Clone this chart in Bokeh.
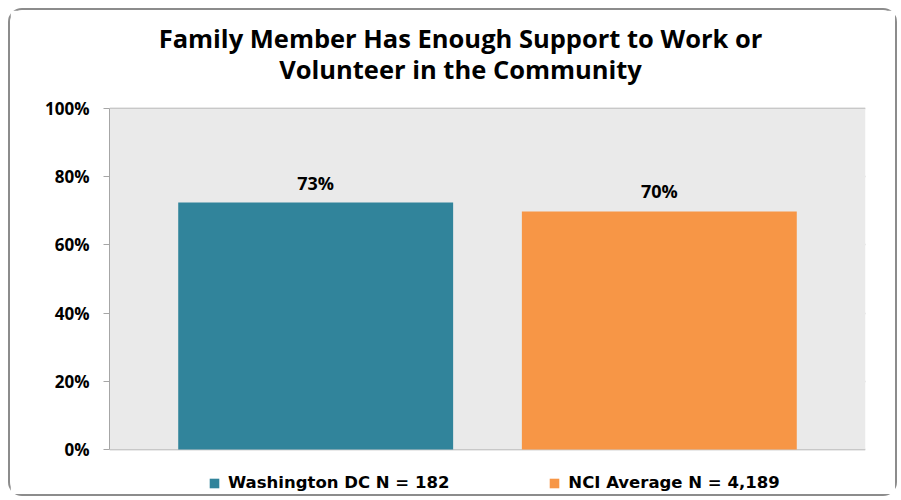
from bokeh.plotting import figure
from bokeh.models import (ColumnDataSource, FactorRange, Range1d, PrintfTickFormatter, FixedTicker,
                          Legend, LegendItem, Label, BoxAnnotation)
from bokeh.core.properties import value
from bokeh.embed import file_html
from bokeh.resources import INLINE

title_lines = ["Family Member Has Enough Support to Work or", "Volunteer in the Community"]
categories = ["Washington DC N = 182", "NCI Average N = 4,189"]
values = [72.4, 69.8]
value_labels = ["73%", "70%"]
colors = ["#31849B", "#F79646"]
y_ticks = [0, 20, 40, 60, 80, 100]

FONT = "Open Sans"
LEG_FONT = "DejaVu Sans"

src = ColumnDataSource(dict(cat=categories, val=values, lab=value_labels, col=colors))

# frame spans whole canvas height; 0..100 occupies 341 px, 98 px above and 49 px below
p = figure(width=889, height=488, output_backend="svg", toolbar_location=None,
           x_range=FactorRange(*categories, range_padding=0.1, range_padding_units="absolute"),
           y_range=Range1d(-14.37, 128.74))

p.background_fill_color = "white"
p.border_fill_color = "white"
p.outline_line_color = None
p.min_border_left = 99
p.min_border_right = 34
p.min_border_top = 0
p.min_border_bottom = 0
p.styles = {"margin-left": "8px", "margin-top": "8px",
            "border": "2px solid #8C8C8C", "border-radius": "14px"}

p.add_layout(BoxAnnotation(bottom=0, top=100, fill_color="#EAEAEA", fill_alpha=1.0,
                           line_color=None, level="underlay"))

r = p.vbar(x="cat", top="val", width=0.8, source=src, fill_color="col", line_color=None)

p.text(x="cat", y="val", text="lab", source=src, text_align="center", text_baseline="alphabetic",
       y_offset=-20, text_font=value(FONT), text_font_style="bold", text_font_size="18px",
       text_color="black")

p.xaxis.visible = False
p.xgrid.visible = False
p.ygrid.ticker = FixedTicker(ticks=y_ticks)
p.ygrid.grid_line_color = "#A6A6A6"
p.ygrid.grid_line_width = 1.5

ya = p.yaxis[0]
ya.ticker = FixedTicker(ticks=y_ticks)
ya.bounds = (0, 100)
ya.formatter = PrintfTickFormatter(format="%d%%")
ya.axis_line_color = "#A6A6A6"
ya.major_tick_line_color = "#A6A6A6"
ya.major_tick_out = 6
ya.major_tick_in = 0
ya.minor_tick_line_color = None
ya.major_label_standoff = 14
ya.major_label_text_font = FONT
ya.major_label_text_font_style = "bold"
ya.major_label_text_font_size = "17px"
ya.major_label_text_color = "black"

for i, line in enumerate(title_lines):
    p.add_layout(Label(x=351, y=461 - 31 * i, x_units="screen", y_units="screen", text=line,
                       text_align="center", text_baseline="middle", text_font=FONT,
                       text_font_style="bold", text_font_size="25.5px", text_color="black"))

legend = Legend(items=[LegendItem(label=categories[0], renderers=[r], index=0),
                       LegendItem(label=categories[1], renderers=[r], index=1)],
                orientation="horizontal", location=(99, 6), border_line_color=None,
                background_fill_alpha=0, label_text_font=LEG_FONT, label_text_font_style="bold",
                label_text_font_size="16.5px", label_text_color="black",
                glyph_width=12, glyph_height=12, label_standoff=8,
                spacing=99, padding=0, margin=0)
p.add_layout(legend, "center")

open("out.html", "w").write(file_html(p, INLINE))
